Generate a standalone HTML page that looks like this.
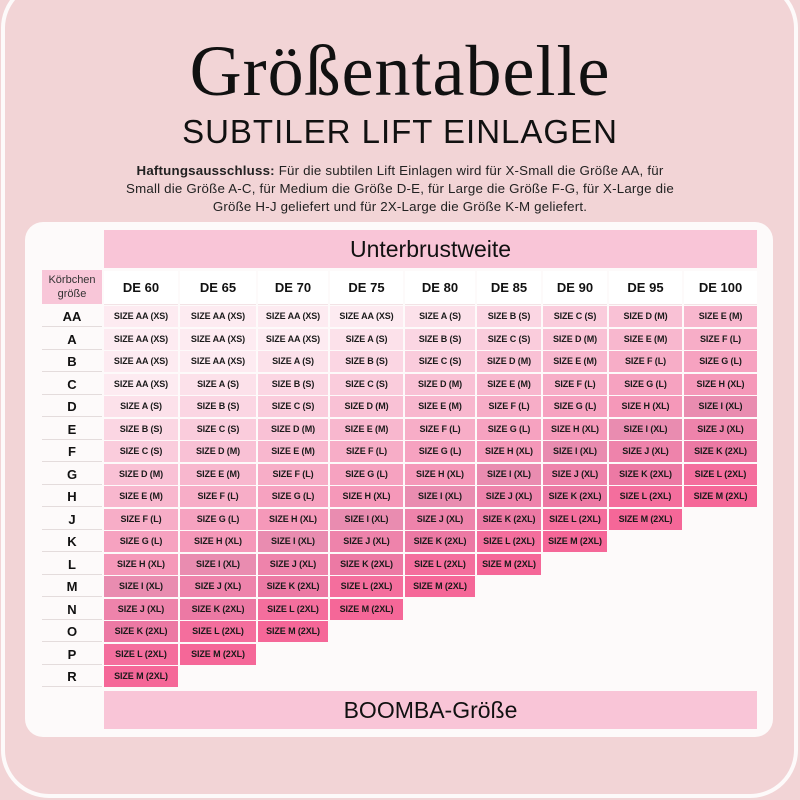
<!DOCTYPE html>
<html><head><meta charset="utf-8"><style>
*{margin:0;padding:0;box-sizing:border-box}
body{width:800px;height:800px;background:#f2d4d6;font-family:"Liberation Sans",sans-serif;position:relative;overflow:hidden;color:#111}
.frame{position:absolute;left:1px;top:-20px;width:797px;height:818px;border:4px solid #fdfafa;border-radius:48px}
.title{position:absolute;left:0;width:800px;top:26px;text-align:center;font-family:"Liberation Serif",serif;font-size:72px;line-height:90px;color:#111;letter-spacing:1px}
.sub{position:absolute;left:0;width:800px;top:112px;text-align:center;font-size:33px;line-height:40px;letter-spacing:1px;color:#111}
.p{position:absolute;left:0;width:800px;top:162px;text-align:center;font-size:13.3px;line-height:18px;color:#222;white-space:nowrap;letter-spacing:0.2px}
.card{position:absolute;left:25px;top:222px;width:748px;height:515px;background:#fdfafa;border-radius:18px}
.ub{position:absolute;left:104px;top:230px;width:653px;height:38px;background:#f9c5d7;text-align:center;font-size:23px;line-height:38px;color:#111}
.bo{position:absolute;left:104px;top:691px;width:653px;height:38px;background:#f9c5d7;text-align:center;font-size:23px;line-height:38px;color:#111}
.kg{position:absolute;left:42px;top:270px;width:60px;height:34px;background:#f8c6d8;text-align:center;font-size:11px;line-height:14px;padding-top:3px;color:#333}
.hdr{position:absolute;left:104px;top:271px;display:grid;grid-template-columns:74px 76px 70px 73px 70px 64px 64px 73px 73px;column-gap:2px;height:33px}
.hdr div{background:#fff;text-align:center;font-weight:bold;font-size:13px;line-height:33px;border-bottom:1px solid #f3e3e6}
.labels{position:absolute;left:42px;top:306px;width:60px;display:grid;grid-auto-rows:21px;row-gap:1.5px}
.labels div{text-align:center;font-weight:bold;font-size:13px;line-height:21px;border-bottom:1px solid #e4dcdc}
.g{position:absolute;left:104px;top:306px;display:grid;grid-template-columns:74px 76px 70px 73px 70px 64px 64px 73px 73px;column-gap:2px;row-gap:1.5px;grid-auto-rows:21px}
.g i{font-style:normal;font-weight:bold;font-size:9px;line-height:21px;text-align:center;white-space:nowrap;color:#1a1a1a;letter-spacing:-0.1px}
.c0{background:#fdebf1}.c1{background:#fce1ea}.c2{background:#fbd6e3}.c3{background:#faccdc}
.c4{background:#f9c1d5}.c5{background:#f8b7ce}.c6{background:#f7adc7}.c7{background:#f6a2c0}
.c8{background:#f598b9}.c9{background:#e98cb0}.c10{background:#ee83ab}.c11{background:#ec79a4}
.c12{background:#f46e9d}.c13{background:#f56798}
</style></head><body>
<div class="frame"></div>
<div class="title">Größentabelle</div>
<div class="sub">SUBTILER LIFT EINLAGEN</div>
<div class="p"><b>Haftungsausschluss:</b> Für die subtilen Lift Einlagen wird für X-Small die Größe AA, für<br>Small die Größe A-C, für Medium die Größe D-E, für Large die Größe F-G, für X-Large die<br>Größe H-J geliefert und für 2X-Large die Größe K-M geliefert.</div>
<div class="card"></div>
<div class="ub">Unterbrustweite</div>
<div class="kg">Körbchen<br>größe</div>
<div class="hdr"><div>DE 60</div><div>DE 65</div><div>DE 70</div><div>DE 75</div><div>DE 80</div><div>DE 85</div><div>DE 90</div><div>DE 95</div><div>DE 100</div></div>
<div class="labels"><div>AA</div><div>A</div><div>B</div><div>C</div><div>D</div><div>E</div><div>F</div><div>G</div><div>H</div><div>J</div><div>K</div><div>L</div><div>M</div><div>N</div><div>O</div><div>P</div><div>R</div></div>
<div class="g">
<i class="c0">SIZE AA (XS)</i><i class="c0">SIZE AA (XS)</i><i class="c0">SIZE AA (XS)</i><i class="c0">SIZE AA (XS)</i><i class="c1">SIZE A (S)</i><i class="c2">SIZE B (S)</i><i class="c3">SIZE C (S)</i><i class="c4">SIZE D (M)</i><i class="c5">SIZE E (M)</i>
<i class="c0">SIZE AA (XS)</i><i class="c0">SIZE AA (XS)</i><i class="c0">SIZE AA (XS)</i><i class="c1">SIZE A (S)</i><i class="c2">SIZE B (S)</i><i class="c3">SIZE C (S)</i><i class="c4">SIZE D (M)</i><i class="c5">SIZE E (M)</i><i class="c6">SIZE F (L)</i>
<i class="c0">SIZE AA (XS)</i><i class="c0">SIZE AA (XS)</i><i class="c1">SIZE A (S)</i><i class="c2">SIZE B (S)</i><i class="c3">SIZE C (S)</i><i class="c4">SIZE D (M)</i><i class="c5">SIZE E (M)</i><i class="c6">SIZE F (L)</i><i class="c7">SIZE G (L)</i>
<i class="c0">SIZE AA (XS)</i><i class="c1">SIZE A (S)</i><i class="c2">SIZE B (S)</i><i class="c3">SIZE C (S)</i><i class="c4">SIZE D (M)</i><i class="c5">SIZE E (M)</i><i class="c6">SIZE F (L)</i><i class="c7">SIZE G (L)</i><i class="c8">SIZE H (XL)</i>
<i class="c1">SIZE A (S)</i><i class="c2">SIZE B (S)</i><i class="c3">SIZE C (S)</i><i class="c4">SIZE D (M)</i><i class="c5">SIZE E (M)</i><i class="c6">SIZE F (L)</i><i class="c7">SIZE G (L)</i><i class="c8">SIZE H (XL)</i><i class="c9">SIZE I (XL)</i>
<i class="c2">SIZE B (S)</i><i class="c3">SIZE C (S)</i><i class="c4">SIZE D (M)</i><i class="c5">SIZE E (M)</i><i class="c6">SIZE F (L)</i><i class="c7">SIZE G (L)</i><i class="c8">SIZE H (XL)</i><i class="c9">SIZE I (XL)</i><i class="c10">SIZE J (XL)</i>
<i class="c3">SIZE C (S)</i><i class="c4">SIZE D (M)</i><i class="c5">SIZE E (M)</i><i class="c6">SIZE F (L)</i><i class="c7">SIZE G (L)</i><i class="c8">SIZE H (XL)</i><i class="c9">SIZE I (XL)</i><i class="c10">SIZE J (XL)</i><i class="c11">SIZE K (2XL)</i>
<i class="c4">SIZE D (M)</i><i class="c5">SIZE E (M)</i><i class="c6">SIZE F (L)</i><i class="c7">SIZE G (L)</i><i class="c8">SIZE H (XL)</i><i class="c9">SIZE I (XL)</i><i class="c10">SIZE J (XL)</i><i class="c11">SIZE K (2XL)</i><i class="c12">SIZE L (2XL)</i>
<i class="c5">SIZE E (M)</i><i class="c6">SIZE F (L)</i><i class="c7">SIZE G (L)</i><i class="c8">SIZE H (XL)</i><i class="c9">SIZE I (XL)</i><i class="c10">SIZE J (XL)</i><i class="c11">SIZE K (2XL)</i><i class="c12">SIZE L (2XL)</i><i class="c13">SIZE M (2XL)</i>
<i class="c6">SIZE F (L)</i><i class="c7">SIZE G (L)</i><i class="c8">SIZE H (XL)</i><i class="c9">SIZE I (XL)</i><i class="c10">SIZE J (XL)</i><i class="c11">SIZE K (2XL)</i><i class="c12">SIZE L (2XL)</i><i class="c13">SIZE M (2XL)</i><i></i>
<i class="c7">SIZE G (L)</i><i class="c8">SIZE H (XL)</i><i class="c9">SIZE I (XL)</i><i class="c10">SIZE J (XL)</i><i class="c11">SIZE K (2XL)</i><i class="c12">SIZE L (2XL)</i><i class="c13">SIZE M (2XL)</i><i></i><i></i>
<i class="c8">SIZE H (XL)</i><i class="c9">SIZE I (XL)</i><i class="c10">SIZE J (XL)</i><i class="c11">SIZE K (2XL)</i><i class="c12">SIZE L (2XL)</i><i class="c13">SIZE M (2XL)</i><i></i><i></i><i></i>
<i class="c9">SIZE I (XL)</i><i class="c10">SIZE J (XL)</i><i class="c11">SIZE K (2XL)</i><i class="c12">SIZE L (2XL)</i><i class="c13">SIZE M (2XL)</i><i></i><i></i><i></i><i></i>
<i class="c10">SIZE J (XL)</i><i class="c11">SIZE K (2XL)</i><i class="c12">SIZE L (2XL)</i><i class="c13">SIZE M (2XL)</i><i></i><i></i><i></i><i></i><i></i>
<i class="c11">SIZE K (2XL)</i><i class="c12">SIZE L (2XL)</i><i class="c13">SIZE M (2XL)</i><i></i><i></i><i></i><i></i><i></i><i></i>
<i class="c12">SIZE L (2XL)</i><i class="c13">SIZE M (2XL)</i><i></i><i></i><i></i><i></i><i></i><i></i><i></i>
<i class="c13">SIZE M (2XL)</i><i></i><i></i><i></i><i></i><i></i><i></i><i></i><i></i>
</div>
<div class="bo">BOOMBA-Größe</div>
</body></html>
